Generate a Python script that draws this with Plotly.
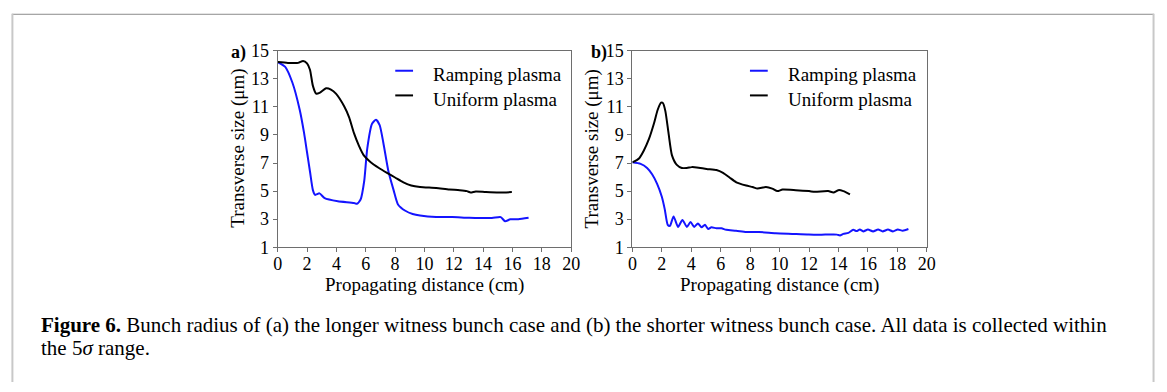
import plotly.graph_objects as go

W, H = 1167, 392

# ---- data: panel a (longer witness bunch) ----
dist_a_ramp = [0, 0.5, 1.0, 1.5, 1.8, 2.0, 2.2, 2.4, 2.55, 2.85, 3.2, 4.1, 5.2, 5.4, 5.65, 5.9, 6.1,
               6.43, 6.7, 6.95, 7.2, 7.55, 7.9, 8.2, 8.7, 9.2, 9.7, 10.8, 11.9, 13.05, 14.6, 15.2,
               15.5, 15.85, 16.4, 17.1]
size_a_ramp = [14.2, 13.87, 12.74, 10.8, 9.13, 7.77, 6.4, 5.07, 4.73, 4.84, 4.5, 4.28, 4.16, 4.1, 4.4,
               5.74, 8.0, 9.8, 10.08, 9.7, 8.45, 6.4, 5.07, 4.05, 3.6, 3.37, 3.26, 3.15, 3.15, 3.1,
               3.08, 3.15, 2.85, 2.99, 3.0, 3.1]

dist_a_uni = [0, 0.7, 1.4, 1.73, 2.0, 2.2, 2.4, 2.62, 2.85, 3.3, 3.63, 3.97, 4.53, 4.87, 5.2, 5.54,
              5.87, 6.3, 6.9, 7.45, 8.0, 8.57, 9.1, 9.7, 10.8, 11.7, 12.4, 12.9, 13.15, 13.5, 14.2,
              15.1, 15.96]
size_a_uni = [14.2, 14.14, 14.14, 14.28, 14.1, 13.65, 12.5, 11.95, 12.0, 12.33, 12.24, 11.95, 11.05,
              10.26, 9.13, 8.23, 7.55, 7.1, 6.65, 6.3, 5.97, 5.63, 5.4, 5.29, 5.22, 5.11, 5.07, 5.0,
              4.9, 4.98, 4.93, 4.9, 4.93]

# ---- data: panel b (shorter witness bunch) ----
dist_b_ramp = [0, 0.56, 1.0, 1.34, 1.68, 2.0, 2.2, 2.4, 2.55, 2.8, 3.1, 3.4, 3.7, 3.95, 4.2, 4.45,
               4.7, 4.93, 5.15, 5.37, 5.71, 6.05, 6.38, 7.05, 7.73, 8.6, 9.74, 10.86, 11.98, 13.1,
               13.9, 14.1, 14.33, 14.67, 15.0, 15.23, 15.45, 15.68, 16.0, 16.35, 16.69, 17.0, 17.36,
               17.7, 18.03, 18.37, 18.75]
size_b_ramp = [7.05, 6.94, 6.65, 6.2, 5.52, 4.6, 3.7, 2.6, 2.52, 3.2, 2.45, 2.95, 2.45, 2.8, 2.45,
               2.7, 2.42, 2.6, 2.3, 2.42, 2.35, 2.35, 2.24, 2.18, 2.09, 2.09, 2.0, 1.95, 1.9, 1.9,
               1.9, 1.84, 1.95, 2.02, 2.24, 2.15, 2.26, 2.13, 2.26, 2.13, 2.26, 2.13, 2.26, 2.13,
               2.26, 2.18, 2.3]

dist_b_uni = [0, 0.45, 0.78, 1.12, 1.46, 1.72, 1.95, 2.08, 2.24, 2.46, 2.69, 3.02, 3.36, 3.7, 4.03,
              4.37, 5.04, 5.71, 6.16, 6.6, 7.06, 7.73, 8.17, 8.5, 9.07, 9.5, 9.85, 10.2, 11.1, 12.0,
              12.4, 13.3, 13.66, 14.0, 14.33, 14.78]
size_b_uni = [7.05, 7.33, 7.9, 8.7, 9.8, 10.8, 11.3, 11.27, 10.7, 9.1, 7.55, 6.87, 6.65, 6.65, 6.71,
              6.69, 6.58, 6.5, 6.3, 5.97, 5.63, 5.4, 5.29, 5.18, 5.29, 5.18, 5.0, 5.11, 5.07, 5.0,
              4.95, 5.0, 4.9, 5.07, 5.0, 4.77]

series_names = ["Ramping plasma", "Uniform plasma"]
series_colors = ["#1414ff", "#000000"]
x_ticks = [0, 2, 4, 6, 8, 10, 12, 14, 16, 18, 20]
y_ticks = [1, 3, 5, 7, 9, 11, 13, 15]
panel_labels = ["a)", "b)"]
x_title = "Propagating distance (cm)"
y_title = "Transverse size (μm)"
caption_line1 = ("<b>Figure 6.</b> Bunch radius of (a) the longer witness bunch case and (b) the "
                 "shorter witness bunch case. All data is collected within")
caption_line2 = "the 5<i>σ</i> range."

SERIF = "Liberation Serif, Times New Roman, serif"


def px(x):
    return x / W


def py(y):
    return 1 - y / H


fig = go.Figure()

panels = [
    dict(xa="x", ya="y", data=[(dist_a_ramp, size_a_ramp), (dist_a_uni, size_a_uni)],
         left=276, right=573, leg_line=(395, 413), leg_text=431, leg_rows=(68, 94), lab_x=227),
    dict(xa="x2", ya="y2", data=[(dist_b_ramp, size_b_ramp), (dist_b_uni, size_b_uni)],
         left=635, right=933, leg_line=(754, 772), leg_text=790, leg_rows=(68, 94), lab_x=591),
]

top_px, bot_px = 43, 250
shapes, annotations = [], []

for i, p in enumerate(panels):
    for (xs, ys), name, color in zip(p["data"], series_names, series_colors):
        fig.add_trace(go.Scatter(x=xs, y=ys, mode="lines", name=name, xaxis=p["xa"], yaxis=p["ya"],
                                 line=dict(color=color, width=2, shape="spline", smoothing=0.6),
                                 showlegend=False))
    # legend entries
    for row_y, name, color in zip(p["leg_rows"], series_names, series_colors):
        shapes.append(dict(type="line", xref="paper", yref="paper",
                           x0=px(p["leg_line"][0]), x1=px(p["leg_line"][1]),
                           y0=py(row_y - 4), y1=py(row_y - 4), line=dict(color=color, width=2)))
        annotations.append(dict(text=name, xref="paper", yref="paper", x=px(p["leg_text"]),
                                y=py(row_y), xanchor="left", yanchor="middle", showarrow=False,
                                font=dict(family=SERIF, size=19, color="black")))
    # panel label
    annotations.append(dict(text="<b>" + panel_labels[i] + "</b>", xref="paper", yref="paper",
                            x=px(p["lab_x"]), y=py(45), xanchor="left", yanchor="middle",
                            showarrow=False, font=dict(family=SERIF, size=18, color="black")))
    # axis titles
    annotations.append(dict(text=x_title, xref="paper", yref="paper",
                            x=px((p["left"] + p["right"]) / 2), y=py(290), xanchor="center",
                            yanchor="middle", showarrow=False,
                            font=dict(family=SERIF, size=19, color="black")))
    annotations.append(dict(text=y_title, xref="paper", yref="paper",
                            x=px(p["left"] - 41), y=py(146), xanchor="center", yanchor="middle",
                            textangle=-90, showarrow=False,
                            font=dict(family=SERIF, size=19, color="black")))

axis_common = dict(showline=True, mirror=True, linecolor="#6e6e6e", linewidth=1, ticks="outside",
                   ticklen=4, tickcolor="#6e6e6e", showgrid=False, zeroline=False,
                   tickfont=dict(family=SERIF, size=18, color="black"))

layout_axes = {}
for i, p in enumerate(panels):
    sfx = "" if i == 0 else str(i + 1)
    layout_axes["xaxis" + sfx] = dict(axis_common, domain=[px(p["left"]), px(p["right"])],
                                      range=[0, 20], tickvals=x_ticks, anchor="y" + sfx,
                                      ticklabelstandoff=-4)
    layout_axes["yaxis" + sfx] = dict(axis_common, domain=[py(bot_px), py(top_px)],
                                      range=[1, 15], tickvals=y_ticks, anchor="x" + sfx)

# page frame
shapes.append(dict(type="line", xref="paper", yref="paper", x0=px(7), x1=px(1163), y0=py(4.5),
                   y1=py(4.5), line=dict(color="#8c8c8c", width=1)))
shapes.append(dict(type="line", xref="paper", yref="paper", x0=px(7.5), x1=px(7.5), y0=py(4),
                   y1=py(392), line=dict(color="#c8c8c8", width=2)))
shapes.append(dict(type="line", xref="paper", yref="paper", x0=px(1162.5), x1=px(1162.5),
                   y0=py(4), y1=py(392), line=dict(color="#c8c8c8", width=2)))

# caption, two lines
for text, yc in ((caption_line1, 332), (caption_line2, 356)):
    annotations.append(dict(text=text, xref="paper", yref="paper", x=px(35), y=py(yc),
                            xanchor="left", yanchor="middle", showarrow=False, borderpad=0,
                            font=dict(family=SERIF, size=21, color="black")))

fig.update_layout(width=W, height=H, margin=dict(l=0, r=0, t=0, b=0), paper_bgcolor="white",
                  plot_bgcolor="white", shapes=shapes, annotations=annotations, **layout_axes)

fig.write_html("out.html")
